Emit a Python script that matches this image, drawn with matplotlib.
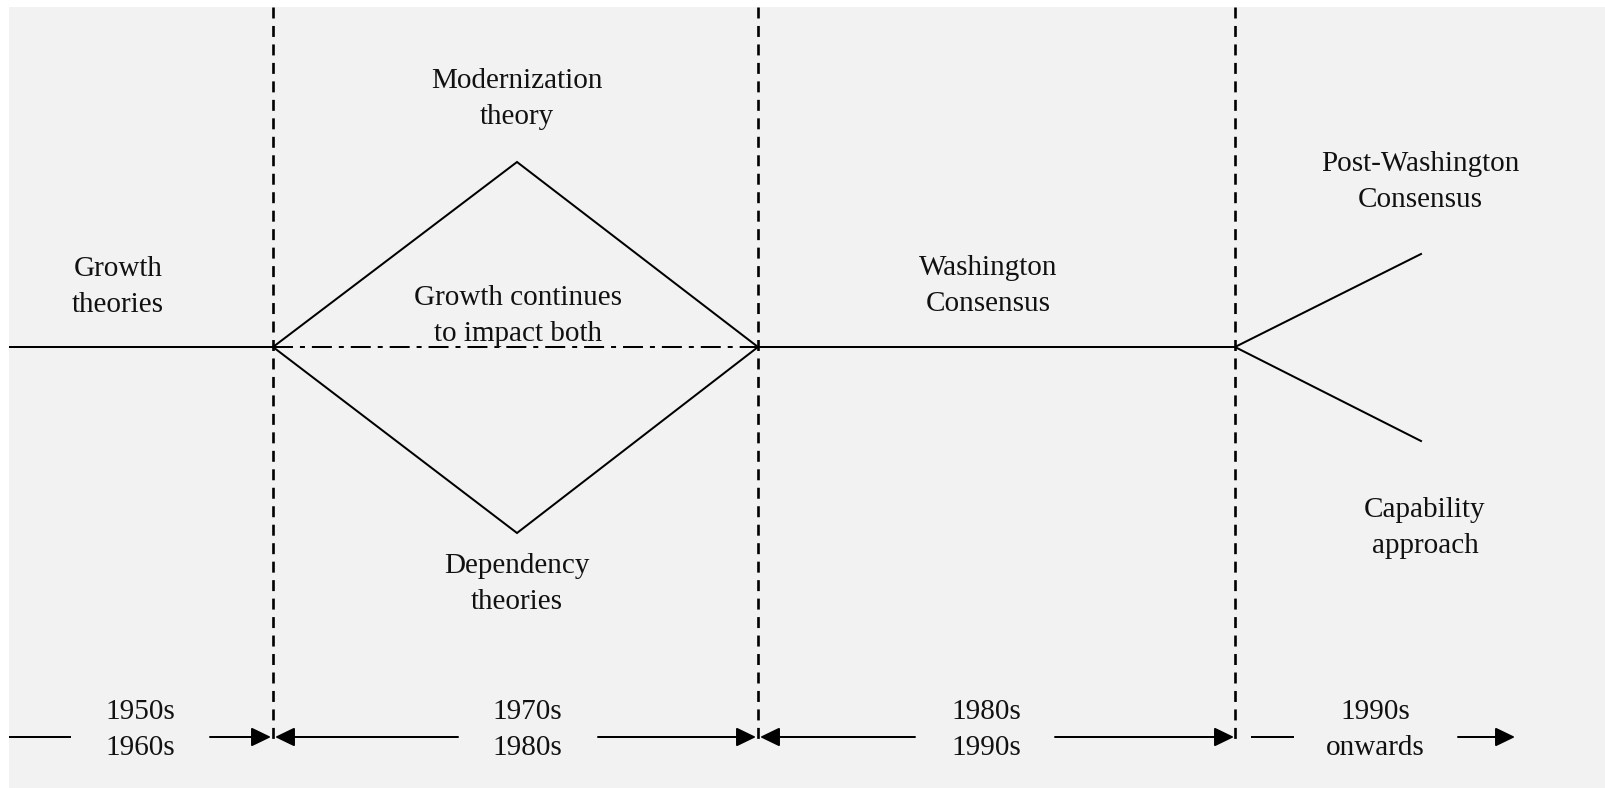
import matplotlib
matplotlib.use("Agg")
import matplotlib.pyplot as plt
from matplotlib.patches import Rectangle

plt.rcParams['font.family'] = ['Liberation Serif', 'DejaVu Serif']
plt.rcParams['lines.scale_dashes'] = False

# ---- content ----
era_labels = ["1950s\n1960s", "1970s\n1980s", "1980s\n1990s", "1990s\nonwards"]
theory_growth = "Growth\ntheories"
theory_modern = "Modernization\ntheory"
theory_continue = "Growth continues\nto impact both"
theory_dependency = "Dependency\ntheories"
theory_washington = "Washington\nConsensus"
theory_post = "Post-Washington\nConsensus"
theory_capability = "Capability\napproach"

# ---- layout (pixel coordinates) ----
W, H = 1606, 788
boundaries = [273, 758, 1235]
main_y = 347
diamond_mid_x = 517
diamond_top_y = 162
diamond_bot_y = 533
fork_end_x = 1421
fork_top_y = 254
fork_bot_y = 441
arrow_y = 737
FS = 21
LS = 1.5
LW = 2.0 * 72 / 100  # ~2 px
DY = 3  # vertical text nudge

fig = plt.figure(figsize=(W / 100, H / 100), dpi=100)
ax = fig.add_axes([0, 0, 1, 1])
ax.set_xlim(0, W)
ax.set_ylim(H, 0)
ax.axis('off')

ax.add_patch(Rectangle((9, 7), W - 9, H - 7, facecolor='#f2f2f2', edgecolor='none', zorder=0))

# vertical dashed era boundaries
for bx in boundaries:
    ax.plot([bx, bx], [7, 745], color='black', lw=1.9, linestyle=(0, (7.9, 5.4)), zorder=2)

# main timeline
ax.plot([10, boundaries[0]], [main_y, main_y], color='black', lw=LW, zorder=3)
ax.plot([boundaries[1], boundaries[2]], [main_y, main_y], color='black', lw=LW, zorder=3)

# diamond
ax.plot([boundaries[0], diamond_mid_x, boundaries[1], diamond_mid_x, boundaries[0]],
        [main_y, diamond_top_y, main_y, diamond_bot_y, main_y],
        color='black', lw=LW, zorder=3, solid_joinstyle='miter')
# dash-dot middle
ax.plot([boundaries[0], boundaries[1]], [main_y, main_y], color='black', lw=LW,
        linestyle=(0, (14.4, 5.0, 3.6, 5.0)), zorder=3)

# fork
ax.plot([fork_end_x, boundaries[2], fork_end_x], [fork_top_y, main_y, fork_bot_y],
        color='black', lw=LW, zorder=3)

# labels
tk = dict(fontsize=FS, ha='center', va='center', linespacing=LS, color='#111111')
ax.text(118, 284 + DY, theory_growth, **tk)
ax.text(517, 96 + DY, theory_modern, **tk)
ax.text(518, 313 + DY, theory_continue, **tk)
ax.text(517, 581 + DY, theory_dependency, **tk)
ax.text(988, 283 + DY, theory_washington, **tk)
ax.text(1420, 179 + DY, theory_post, **tk)
ax.text(1425, 525 + DY, theory_capability, **tk)

# bottom era arrows
era_centers = [140, 527, 986, 1375]
ap = dict(arrowstyle='-|>,head_length=1.2,head_width=0.58', lw=LW, color='black',
          mutation_scale=10, shrinkA=0, shrinkB=0)

def arrow(x0, x1):
    ax.annotate('', xy=(x1, arrow_y), xytext=(x0, arrow_y), arrowprops=ap, zorder=4)

# segment 1
ax.plot([10, 70], [arrow_y, arrow_y], color='black', lw=LW)
arrow(210, 271)
# segment 2
arrow(458, 275)
arrow(598, 756)
# segment 3
arrow(915, 760)
arrow(1055, 1234)
# segment 4
ax.plot([1252, 1293], [arrow_y, arrow_y], color='black', lw=LW)
arrow(1458, 1515)

for cx, lab in zip(era_centers, era_labels):
    ax.text(cx, 727 + DY, lab, **tk)

fig.savefig('out.png', dpi=100, facecolor='white')
